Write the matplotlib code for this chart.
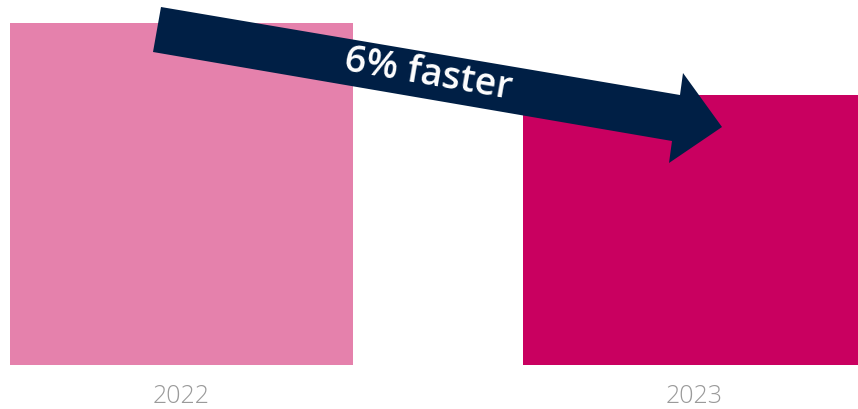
import matplotlib
matplotlib.use("Agg")
import matplotlib.pyplot as plt
from matplotlib.patches import Polygon

years = ["2022", "2023"]
values = [100, 94]
colors = ["#E581AC", "#C90060"]
arrow_label = "6% faster"

W, H = 858, 409
fig = plt.figure(figsize=(W / 100, H / 100), dpi=100)
ax = fig.add_axes([0, (H - 365) / H, 1, 365 / H])
x = list(range(len(years)))
ax.bar(x, values, width=0.6686, color=colors)
ax.set_xlim(-0.3538, 1.3187)
ax.set_ylim(71.5, 101.92)
ax.set_xticks(x)
ax.set_xticklabels(years, fontsize=18, color="#9a9a9a", family=["Open Sans", "DejaVu Sans"], fontweight="light")
ax.tick_params(axis="x", length=0, pad=14)
ax.set_yticks([])
for s in ax.spines.values():
    s.set_visible(False)

# arrow overlay (figure pixel positions)
pts = [(161, 7), (680, 95), (683, 73), (722, 127), (669, 163), (672, 141), (153, 52)]
poly = Polygon([(px / W, 1 - py / H) for px, py in pts], closed=True,
               transform=fig.transFigure, facecolor="#001F45", edgecolor="none", zorder=5)
fig.patches.append(poly)
fig.text(428 / W, 1 - 75 / H, arrow_label, color="white", fontsize=27, fontweight="semibold",
         family=["Open Sans", "DejaVu Sans"], rotation=-9.8, rotation_mode="anchor",
         ha="center", va="center", zorder=6)

fig.savefig("out.png", dpi=100)
